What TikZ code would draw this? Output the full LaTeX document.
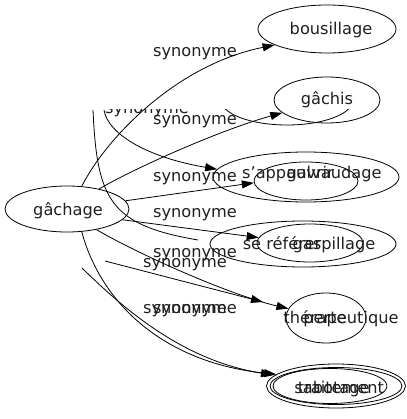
\documentclass[tikz,border=0pt]{standalone}
\usepackage{fontspec}
\setmainfont{DejaVu Sans}
\usetikzlibrary{shapes.geometric,arrows.meta}
\begin{document}
\begin{tikzpicture}[x=1pt,y=-1pt,
  every node/.style={font=\fontsize{16.2}{19}\selectfont, text=black!88},
  ell/.style={draw, ellipse, inner sep=0pt, line width=0.8pt},
  lbl/.style={anchor=base, inner sep=0pt},
  edge/.style={draw, line width=0.8pt, -{Triangle[length=12pt,width=8pt]}},
  plain/.style={draw, line width=0.8pt}]
\useasboundingbox (0,0) rectangle (406,419);
% ellipses of the main graph
\node[ell, minimum width=124pt, minimum height=46pt] (g) at (67,209) {};
\node[ell, minimum width=138pt, minimum height=48pt] (bous) at (327,29) {};
\node[ell, minimum width=106pt, minimum height=46pt] (gachis) at (327,100) {};
\node[ell, minimum width=186pt, minimum height=50pt] (op1) at (306,177) {};
\node[ell, minimum width=104pt, minimum height=38pt] (ip1) at (306,181) {};
\node[ell, minimum width=186pt, minimum height=46pt] (op2) at (303,244) {};
\node[ell, minimum width=106pt, minimum height=38pt] (ip2) at (310,243) {};
\node[ell, minimum width=80pt, minimum height=50pt] (perte) at (326,318) {};
\node[ell, minimum width=139pt, minimum height=44pt] (sab) at (336,386) {};
\node[ell, minimum width=132pt, minimum height=37pt] (sabin) at (336,386) {};
\node[ell, minimum width=114pt, minimum height=35pt] (trait) at (330,386) {};
% texts
\node[lbl] (tgach) at (68,215) {gâchage};
\node[lbl] (tbous) at (331,35) {bousillage};
\node[lbl] (tgachis) at (327,105) {gâchis};
\node[lbl] (tsapp) at (288,179) {s'appauvrir};
\node[lbl] (tgalv) at (334,179) {galvaudage};
\node[lbl] (tsref) at (282,249) {se référer};
\node[lbl] (tgasp) at (334,249) {gaspillage};
\node[lbl] (tther) at (341,323) {thérapeutique};
\node[lbl] (tperte) at (325,323) {perte};
\node[lbl] (tsab) at (332,393) {sabotage};
\node[lbl] (ttrait) at (341,393) {traitement};
% edge labels
\node[lbl] (l1) at (195,57) {synonyme};
\node[lbl] (l3) at (195,125) {synonyme};
\node[lbl] (l4) at (195,182) {synonyme};
\node[lbl] (l5) at (195,218) {synonyme};
\node[lbl] (l6) at (195,257) {synonyme};
\node[lbl] (l7) at (185,267) {synonyme};
\node[lbl] (l8) at (195,313) {synonyme};
\node[lbl] (l9) at (185,313) {synonyme};
% main edges
\draw[edge] (g.57) .. controls (105,140) and (175,65) .. (bous.197);
\draw[edge] (g.32) .. controls (135,168) and (220,130) .. (gachis.196);
\draw[edge] (g.8) -- (ip1.182);
\draw[edge] (g.-11) -- (ip2.174);
\draw[edge] (g.-35) .. controls (140,255) and (230,295) .. (perte.166);
\draw[edge] (g.-57) .. controls (100,300) and (160,362) .. (sab.169);
% second, cut-off graph
\coordinate (g2a) at (93,110);
\coordinate (g2b) at (104,110);
\coordinate (g2c) at (105,261);
\coordinate (g2d) at (82,268);
\coordinate (g2aend) at (198,240);
\coordinate (g2ctip) at (263,302);
\coordinate (g2dtip) at (273,375);
\begin{scope}
\clip (0,110) rectangle (406,419);
\node[ell, minimum width=132pt, minimum height=50pt] (g2n) at (287,100) {};
\node[lbl] (l2) at (147,114) {synonyme};
\end{scope}
\draw[edge] (g2b) .. controls (108,135) and (150,158) .. (op1.175);
\draw[plain] (g2a) .. controls (97,200) and (110,225) .. (g2aend);
\draw[edge] (g2c) -- (g2ctip);
\draw[edge] (g2d) .. controls (120,305) and (180,360) .. (g2dtip);
\end{tikzpicture}
\end{document}
